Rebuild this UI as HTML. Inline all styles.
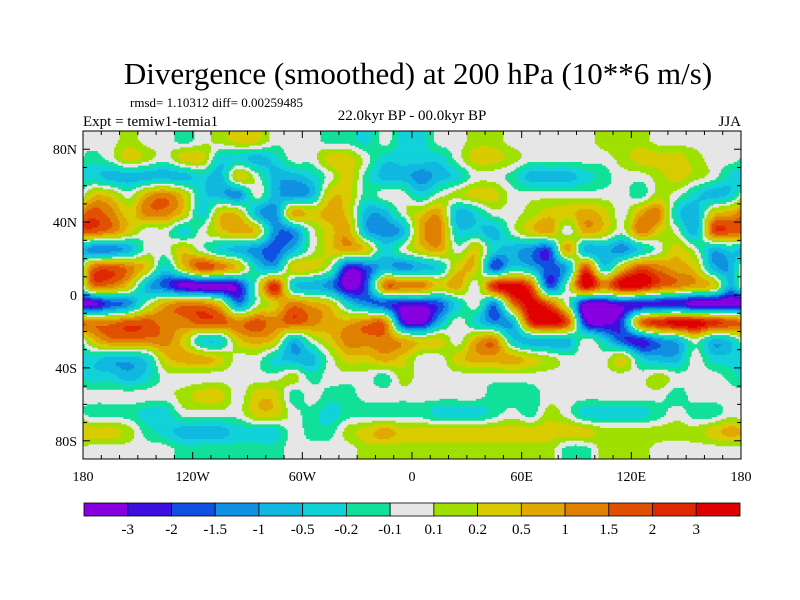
<!DOCTYPE html>
<html><head><meta charset="utf-8"><style>
html,body{margin:0;padding:0;background:#fff;}
svg{display:block;font-family:"Liberation Serif",serif;}
</style></head><body>
<svg id="chart" width="800" height="600" viewBox="0 0 800 600" xmlns="http://www.w3.org/2000/svg">
<rect width="800" height="600" fill="#fff"/>
<text x="418" y="84" font-size="31" text-anchor="middle">Divergence (smoothed) at 200 hPa (10**6 m/s)</text>
<text x="130" y="107" font-size="13">rmsd= 1.10312 diff= 0.00259485</text>
<text x="83" y="126" font-size="15">Expt = temiw1-temia1</text>
<text x="412" y="120" font-size="15" text-anchor="middle">22.0kyr BP - 00.0kyr BP</text>
<text x="741" y="126" font-size="15" text-anchor="end">JJA</text>
<g id="cells"></g>
<g id="axes"></g>
<g id="cbar"></g>
</svg>
<script>
const lats = [85,75,65,55,45,35,25,15,5,-5,-15,-25,-35,-45,-55,-65,-75,-85];
const lons = [-175,-165,-155,-145,-135,-125,-115,-105,-95,-85,-75,-65,-55,-45,-35,-25,-15,-5,5,15,25,35,45,55,65,75,85,95,105,115,125,135,145,155,165,175];
const levels = [-3,-2,-1.5,-1,-0.5,-0.2,-0.1,0.1,0.2,0.5,1,1.5,2,3];
const levelLabels = ["-3","-2","-1.5","-1","-0.5","-0.2","-0.1","0.1","0.2","0.5","1","1.5","2","3"];
const colors = ["#8600e0","#3c0ee0","#1050e0","#1090e0","#10b8e0","#10d2d8","#10e098","#e6e6e6","#a0e000","#d8cc00","#e0a800","#e08000","#e05000","#e02800","#e00000"];
const lat85 = [0,0,.15,0,0,-.15,0,.15,.3,.3,0,0,0,-.15,-.15,-.3,0,-.3,-.3,0,0,.15,.15,0,0,0,0,0,.15,.15,.15,0,0,0,0,0];
const lat75 = [-.15,0,.3,.15,0,.3,.3,-.3,-.3,-.7,-.3,0,0,.3,.3,0,-.3,-.3,-.3,-.3,0,.3,.3,.15,0,0,0,0,0,.15,.3,.3,.3,.15,0,0];
const lat65 = [-.3,-.7,-.7,-.7,-.7,-.7,-.3,-.7,.3,0,-.7,-.7,-.3,0,.3,-.15,-.7,-.7,-1.2,-.7,-.3,0,0,-.15,-.7,-.7,-.7,-.3,-.15,0,0,.15,.3,.15,0,-.3];
const lat55 = [.3,.3,0,.7,1.2,.3,-.3,-.7,-1.2,0,-.7,-1.2,-.7,.3,.3,-.15,0,0,-.3,0,.15,.3,.3,0,0,0,0,0,0,0,-.15,.15,0,-.3,-.7,-.3];
const lat45 = [1.7,1.2,.3,1.2,1.2,.3,-.3,.3,.3,-.7,-1.2,.7,.3,.7,.3,-.7,-.7,0,.3,.7,-.7,-.3,0,0,.15,.3,.3,.7,.3,0,.7,1.2,-.3,-.7,.3,.7];
const lat35 = [1.7,1.2,.3,0,0,-.3,0,.3,.7,.3,-1.2,-1.2,0,.3,.7,-.7,-1.2,-.7,.7,1.2,-.3,-.3,-.7,0,.3,.7,0,.7,.3,0,1.2,.3,0,-.7,1.7,1.7];
const lat25 = [-1.2,-1.2,-.7,0,0,.3,0,-.3,-.7,-1.2,-1.7,-.7,0,.3,.7,.3,-.3,0,.3,.7,0,.3,-.3,-.7,-1.2,-1.7,.7,-.7,-.7,-1.2,-.3,0,.3,0,-.7,-.3];
const lat15 = [1.2,1.7,1.2,.3,-.3,.3,1.7,1.2,.3,-.3,-.7,.3,.3,0,-2.5,-1.7,-.7,-1.2,-.7,-.3,.3,.3,-1.7,-.3,-.7,-1.7,-.7,1.7,-.3,.3,1.7,1.2,.7,.3,-.7,-.7];
const lat5 = [1.2,1.2,.3,-.7,-1.7,-3.5,-3.5,-3.5,-2.5,0,2.5,-.3,-.7,-1.2,-3.5,-1.7,1.2,1.2,1.2,.3,.7,0,2.5,3.5,1.7,-1.7,0,3.5,1.2,3.5,3.5,1.7,1.2,.7,.3,-.7];
const latS5 = [-3.5,-1.7,-1.2,0,.7,1.2,1.2,.3,-1.2,0,.3,1.2,.7,.3,-.3,-1.2,-1.7,-2.5,-2.5,-1.7,-.3,0,-1.2,1.2,3.5,1.7,0,-3.5,-3.5,-2.5,-2.5,-2.5,-2.5,-3.5,-3.5,-3.5];
const latS15 = [1.2,1.2,1.7,1.7,1.2,1.2,1.7,1.7,1.2,1.7,1.2,1.7,1.2,.7,.7,1.2,1.2,-2.5,-3.5,-.7,0,-.3,-1.2,-.7,2.5,3.5,1.7,-2.5,-3.5,-1.7,1.2,2.5,3.5,3.5,2.5,1.7];
const latS25 = [.3,1.2,1.2,1.2,1.2,.3,-.3,-.3,.3,.7,.3,-.7,0,.3,1.2,1.2,1.2,.7,.3,.3,0,.7,1.2,-.3,-.7,-.7,-.7,0,-.3,-1.7,-2.5,-1.2,-.7,0,-.7,-.3];
const latS35 = [-.3,-.7,-.7,-.3,.3,.7,.7,.3,0,0,-.3,-.7,-.7,0,.3,.3,.7,.3,0,0,.3,.7,.7,.7,.3,.15,0,0,0,.3,-.3,-.7,-.7,0,-.3,-.3];
const latS45 = [-.3,-.3,-.7,-.3,0,0,0,0,0,0,0,.15,-.15,0,0,0,-.15,.15,0,0,0,0,0,0,0,0,0,0,0,0,0,.15,0,0,0,-.15];
const latS55 = [0,0,0,0,0,.15,.3,.3,0,.3,.3,-.15,0,-.15,-.15,0,0,0,0,0,0,0,-.15,-.15,-.15,0,0,0,0,0,0,0,-.15,0,0,0];
const latS65 = [-.15,-.15,-.15,-.3,-.3,0,0,0,0,.3,.3,0,-.15,-.3,-.15,-.15,-.15,-.15,-.15,-.3,-.3,-.3,-.15,0,-.15,.15,0,-.3,-.3,-.3,-.3,-.15,0,-.15,-.15,0];
const latS75 = [.3,.3,.15,-.15,-.3,-.7,-.7,-.7,-.3,-.3,-.3,0,-.15,-.15,.15,.3,.7,.3,.3,.3,.3,.3,.3,.3,.3,.3,.3,.3,.15,.15,.15,.15,.15,.15,.3,.7];
const latS85 = [0,0,0,0,0,-.15,-.15,-.15,-.15,-.15,-.15,0,0,0,0,.15,.15,.15,.15,.15,.15,.15,.15,.15,.15,.15,-.15,-.15,.15,.15,.15,0,0,0,0,0];
const grid = [lat85,lat75,lat65,lat55,lat45,lat35,lat25,lat15,lat5,latS5,latS15,latS25,latS35,latS45,latS55,latS65,latS75,latS85];
const xTickLabels = ["180","120W","60W","0","60E","120E","180"];
const xTickLons = [-180,-120,-60,0,60,120,180];
const yTickLabels = ["80N","40N","0","40S","80S"];
const yTickLats = [80,40,0,-40,-80];

const NS="http://www.w3.org/2000/svg";
const X0=83,X1=741,Y0=131,Y1=459;
function xScale(lon){return X0+(lon+180)/360*(X1-X0);}
function yScale(lat){return Y0+(90-lat)/180*(Y1-Y0);}
function cls(v){let k=0;for(const l of levels){if(v>l)k++;}return k;}
function mk(tag,attrs,parent){const e=document.createElementNS(NS,tag);for(const k in attrs)e.setAttribute(k,attrs[k]);parent.appendChild(e);return e;}

const ci = grid.map(r=>r.map(cls));
const nR=lats.length,nC=lons.length;
function cr(p0,p1,p2,p3,t){return 0.5*((2*p1)+(-p0+p2)*t+(2*p0-5*p1+4*p2-p3)*t*t+(-p0+3*p1-3*p2+p3)*t*t*t);}
function gv(j,i){j=Math.max(0,Math.min(nR-1,j));i=((i%nC)+nC)%nC;return ci[j][i];}
function sample(lon,lat){
  let fi=(lon-lons[0])/10;
  let fj=(lats[0]-lat)/10; fj=Math.max(0,Math.min(nR-1,fj));
  const i0=Math.floor(fi),ti=fi-i0;
  const j0=Math.floor(fj),tj=fj-j0;
  const rows=[];
  for(let d=-1;d<=2;d++){
    const j=j0+d;
    rows.push(cr(gv(j,i0-1),gv(j,i0),gv(j,i0+1),gv(j,i0+2),ti));
  }
  const v=cr(rows[0],rows[1],rows[2],rows[3],tj);
  return Math.max(0,Math.min(14,Math.round(v)));
}
const cells=document.getElementById('cells');
const step=1;
for(let lat=90;lat>-90;lat-=step){
  const y=yScale(lat),h=yScale(lat-step)-y;
  let runStart=-180,runC=sample(-180+step/2,lat-step/2);
  for(let lon=-180+step;lon<=180;lon+=step){
    const c= lon<180 ? sample(lon+step/2,lat-step/2) : -1;
    if(c!==runC){
      const r=mk('rect',{x:xScale(runStart).toFixed(2),y:y.toFixed(2),width:(xScale(lon)-xScale(runStart)+0.3).toFixed(2),height:(h+0.3).toFixed(2),fill:colors[runC]},cells);
      
      
      runStart=lon;runC=c;
    }
  }
}
const axes=document.getElementById('axes');
const frame=mk('rect',{x:X0,y:Y0,width:X1-X0,height:Y1-Y0,fill:'none',stroke:'#000','stroke-width':1},axes);


for(let lon=-180;lon<=180;lon+=10){
  const x=xScale(lon),len=(lon%60===0)?7:4;
  mk('line',{x1:x,x2:x,y1:Y0,y2:Y0+len,stroke:'#000'},axes);
  mk('line',{x1:x,x2:x,y1:Y1,y2:Y1-len,stroke:'#000'},axes);
}
for(let lat=-90;lat<=90;lat+=10){
  const y=yScale(lat),len=(lat%40===0)?7:4;
  mk('line',{x1:X0,x2:X0+len,y1:y,y2:y,stroke:'#000'},axes);
  mk('line',{x1:X1,x2:X1-len,y1:y,y2:y,stroke:'#000'},axes);
}
xTickLabels.forEach((t,i)=>{
  const e=mk('text',{x:xScale(xTickLons[i]),y:481,'font-size':14,'text-anchor':'middle'},axes);
  e.textContent=t;
  
  
});
yTickLabels.forEach((t,i)=>{
  const e=mk('text',{x:77,y:yScale(yTickLats[i])+5,'font-size':14,'text-anchor':'end'},axes);
  e.textContent=t;
  
  
});
const cbar=document.getElementById('cbar');
const CB0=84,CB1=740,CBY=503,CBH=13,bw=(CB1-CB0)/colors.length;
colors.forEach((c,i)=>{
  const r=mk('rect',{x:CB0+i*bw,y:CBY,width:bw,height:CBH,fill:c,stroke:'#000','stroke-width':0.8},cbar);
  
  
});
levelLabels.forEach((t,i)=>{
  const e=mk('text',{x:CB0+(i+1)*bw,y:534,'font-size':15,'text-anchor':'middle'},cbar);
  e.textContent=t;
  
  
});
</script>
</body></html>
